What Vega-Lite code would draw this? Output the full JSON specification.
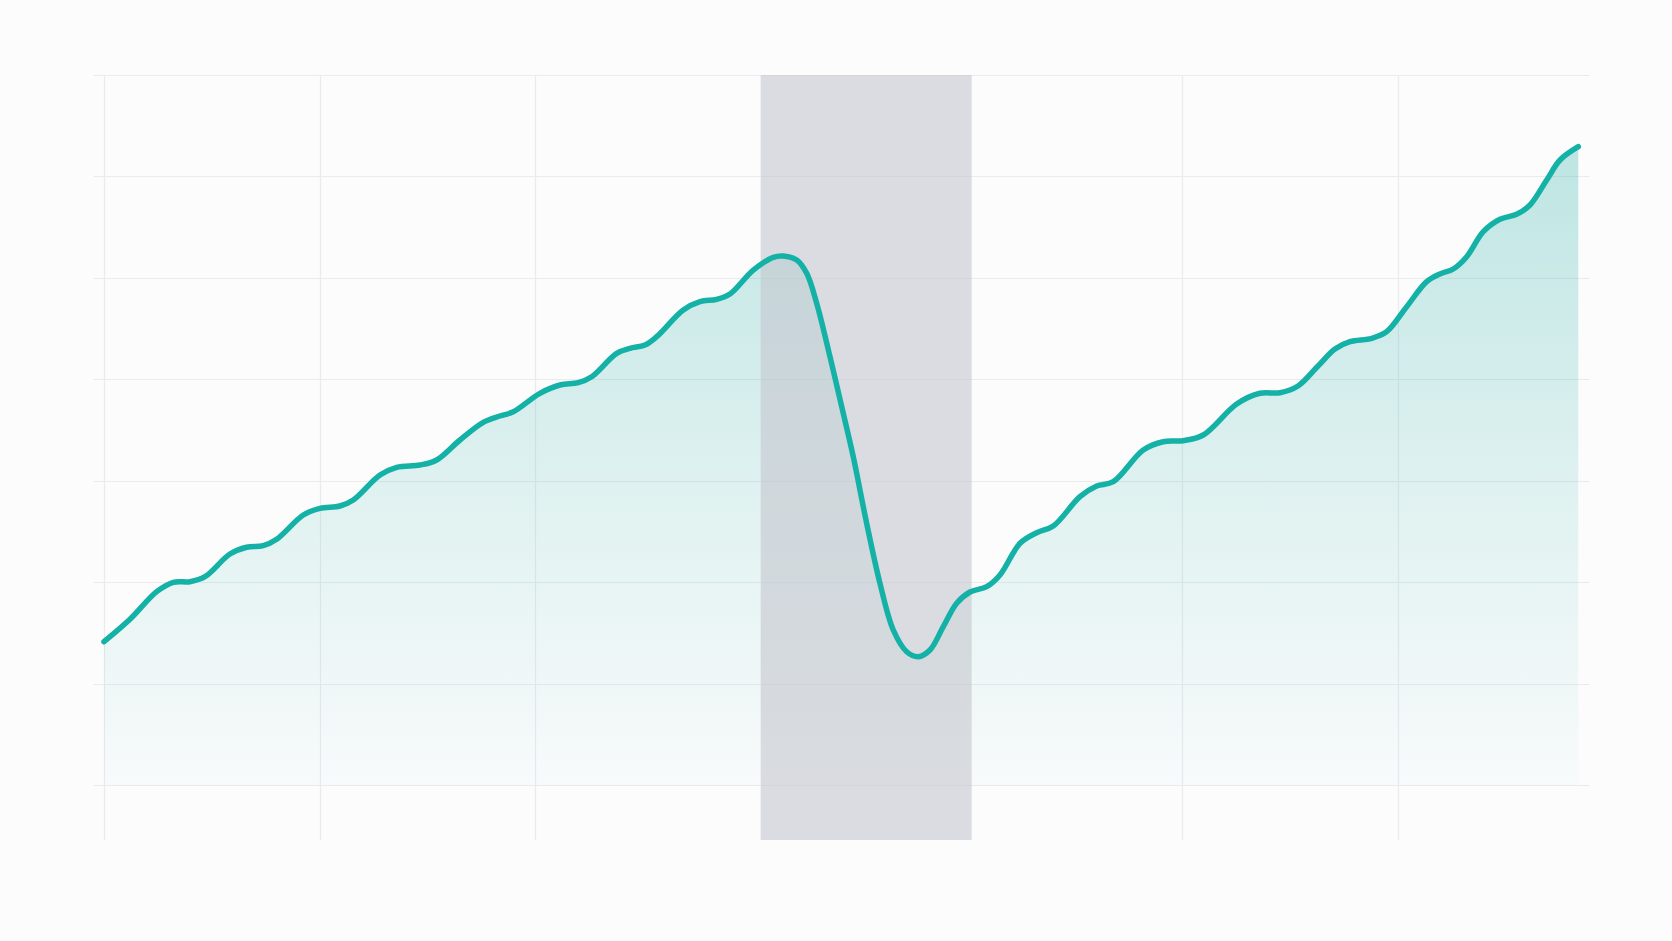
{
  "$schema": "https://vega.github.io/schema/vega-lite/v6.json",
  "width": 1496,
  "height": 765,
  "autosize": {"type": "none"},
  "padding": {"left": 93, "top": 75, "right": 83, "bottom": 101},
  "background": "#fcfcfc",
  "config": {
    "view": {"stroke": null},
    "axis": {"gridColor": "#ebebef", "gridWidth": 1.2, "labels": false, "ticks": false, "domain": false, "title": null}
  },
  "datasets": {
    "series": [
      {"year": 1999.991, "value": 28.33},
      {"year": 2000.473, "value": 32.75},
      {"year": 2000.969, "value": 38.19},
      {"year": 2001.277, "value": 40.04},
      {"year": 2001.587, "value": 40.16},
      {"year": 2001.865, "value": 41.14},
      {"year": 2002.329, "value": 45.61},
      {"year": 2002.639, "value": 46.94},
      {"year": 2002.948, "value": 47.25},
      {"year": 2003.196, "value": 48.51},
      {"year": 2003.690, "value": 53.30},
      {"year": 2004.000, "value": 54.62},
      {"year": 2004.371, "value": 55.07},
      {"year": 2004.618, "value": 56.26},
      {"year": 2005.114, "value": 61.18},
      {"year": 2005.424, "value": 62.70},
      {"year": 2005.856, "value": 63.15},
      {"year": 2006.166, "value": 64.14},
      {"year": 2006.598, "value": 68.08},
      {"year": 2007.031, "value": 71.56},
      {"year": 2007.341, "value": 72.81},
      {"year": 2007.588, "value": 73.65},
      {"year": 2008.083, "value": 77.28},
      {"year": 2008.455, "value": 78.91},
      {"year": 2008.794, "value": 79.37},
      {"year": 2009.043, "value": 80.55},
      {"year": 2009.507, "value": 85.16},
      {"year": 2009.754, "value": 86.15},
      {"year": 2010.032, "value": 86.80},
      {"year": 2010.249, "value": 88.43},
      {"year": 2010.743, "value": 93.69},
      {"year": 2011.053, "value": 95.33},
      {"year": 2011.363, "value": 95.80},
      {"year": 2011.610, "value": 96.85},
      {"year": 2012.042, "value": 101.57},
      {"year": 2012.414, "value": 104.08},
      {"year": 2012.599, "value": 104.33},
      {"year": 2012.848, "value": 103.55},
      {"year": 2013.034, "value": 100.92},
      {"year": 2013.219, "value": 95.01},
      {"year": 2013.466, "value": 84.49},
      {"year": 2013.713, "value": 73.34},
      {"year": 2013.898, "value": 64.79},
      {"year": 2014.147, "value": 51.66},
      {"year": 2014.394, "value": 39.84},
      {"year": 2014.641, "value": 30.64},
      {"year": 2014.890, "value": 26.36},
      {"year": 2015.105, "value": 25.38},
      {"year": 2015.322, "value": 26.70},
      {"year": 2015.569, "value": 31.29},
      {"year": 2015.818, "value": 35.90},
      {"year": 2016.065, "value": 38.13},
      {"year": 2016.375, "value": 39.17},
      {"year": 2016.621, "value": 41.48},
      {"year": 2016.993, "value": 47.72},
      {"year": 2017.303, "value": 49.81},
      {"year": 2017.611, "value": 51.13},
      {"year": 2018.106, "value": 56.91},
      {"year": 2018.416, "value": 59.01},
      {"year": 2018.724, "value": 59.86},
      {"year": 2019.281, "value": 66.11},
      {"year": 2019.652, "value": 67.74},
      {"year": 2020.024, "value": 67.94},
      {"year": 2020.395, "value": 69.06},
      {"year": 2021.015, "value": 75.17},
      {"year": 2021.447, "value": 77.28},
      {"year": 2021.819, "value": 77.40},
      {"year": 2022.153, "value": 78.72},
      {"year": 2022.524, "value": 82.66},
      {"year": 2022.839, "value": 86.01},
      {"year": 2023.118, "value": 87.45},
      {"year": 2023.521, "value": 88.12},
      {"year": 2023.799, "value": 89.42},
      {"year": 2024.170, "value": 94.34},
      {"year": 2024.541, "value": 99.27},
      {"year": 2024.788, "value": 100.79},
      {"year": 2025.035, "value": 101.77},
      {"year": 2025.284, "value": 104.20},
      {"year": 2025.592, "value": 109.12},
      {"year": 2025.902, "value": 111.56},
      {"year": 2026.212, "value": 112.55},
      {"year": 2026.459, "value": 114.38},
      {"year": 2026.769, "value": 119.31},
      {"year": 2027.016, "value": 123.25},
      {"year": 2027.355, "value": 125.87}
    ],
    "band": [
      {"start": 2012.18, "end": 2016.096}
    ]
  },
  "layer": [
    {
      "data": {"name": "series"},
      "mark": {
        "type": "area",
        "interpolate": "catmull-rom",
        "color": {
          "gradient": "linear", "x1": 0, "y1": 0, "x2": 0, "y2": 1,
          "stops": [
            {"offset": 0, "color": "rgba(22,168,160,0.27)"},
            {"offset": 0.6, "color": "rgba(22,168,160,0.11)"},
            {"offset": 1, "color": "rgba(22,168,160,0.02)"}
          ]
        }
      },
      "encoding": {
        "x": {"field": "year", "type": "quantitative", "scale": {"domain": [1999.787, 2027.554], "nice": false, "zero": false},
              "axis": {"grid": true, "values": [2000, 2004, 2008, 2020, 2024]}},
        "y": {"field": "value", "type": "quantitative", "scale": {"domain": [-10.74, 140], "nice": false, "zero": false},
              "axis": {"grid": true, "values": [0, 20, 40, 60, 80, 100, 120, 140]}},
        "y2": {"datum": 0}
      }
    },
    {
      "data": {"name": "band"},
      "mark": {"type": "rect", "color": "#c5c6cf", "opacity": 0.6},
      "encoding": {
        "x": {"field": "start", "type": "quantitative"},
        "x2": {"field": "end"}
      }
    },
    {
      "data": {"name": "series"},
      "mark": {"type": "line", "interpolate": "catmull-rom", "color": "#14b1a6", "strokeWidth": 5.5, "strokeCap": "round", "strokeJoin": "round"},
      "encoding": {
        "x": {"field": "year", "type": "quantitative"},
        "y": {"field": "value", "type": "quantitative"}
      }
    }
  ]
}
